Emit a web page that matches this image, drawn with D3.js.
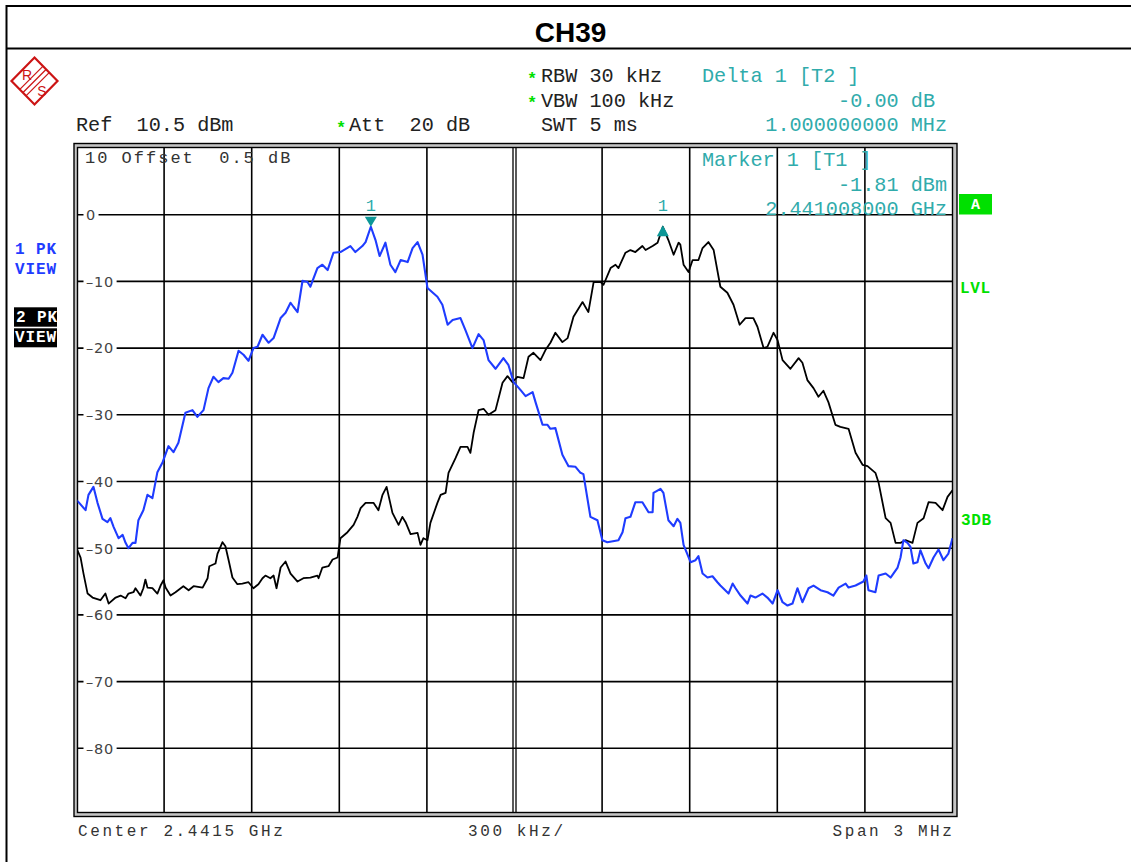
<!DOCTYPE html>
<html><head><meta charset="utf-8">
<script src="https://cdn.jsdelivr.net/npm/d3@7"></script>
<style>
html,body{margin:0;padding:0;background:#fff;}
svg{display:block;}
text{white-space:pre;}
</style></head>
<body>
<svg id="chart" width="1131" height="862"></svg>
<script>
// ---------------- DATA ----------------
const titleText = "CH39";
const centerFreqGHz = 2.4415;
const spanMHz = 3;
const levelTicks = [0, -10, -20, -30, -40, -50, -60, -70, -80];
const levelDomain = [-90, 10];
const freqDivisions = 10;
// markers: [offset from start (MHz), level dBm]
const marker1 = [1.008, -1.81];   // T1, 2.441008 GHz
const delta1 = [2.008, -1.81];    // T2, +1 MHz, -0.00 dB
// Trace 1 (blue, 1 PK VIEW): [offset from 2440 MHz (MHz), level dBm]
const trace1 = [[0,-42.8],[0.007,-43.1],[0.031,-44.3],[0.041,-42.0],[0.058,-40.8],[0.072,-43.2],[0.089,-45.6],[0.106,-46.1],[0.116,-45.5],[0.127,-46.8],[0.144,-48.5],[0.158,-48.0],[0.168,-49.2],[0.178,-50.0],[0.192,-49.2],[0.202,-49.2],[0.212,-45.8],[0.229,-44.3],[0.243,-42.0],[0.260,-42.5],[0.277,-38.6],[0.295,-37.1],[0.315,-34.7],[0.332,-35.6],[0.349,-34.2],[0.373,-29.7],[0.397,-29.3],[0.414,-30.3],[0.435,-29.3],[0.452,-26.0],[0.469,-24.3],[0.486,-25.1],[0.503,-24.5],[0.521,-24.6],[0.534,-23.7],[0.555,-20.4],[0.572,-21.0],[0.589,-21.9],[0.606,-20.0],[0.620,-19.8],[0.637,-18.0],[0.658,-19.2],[0.675,-18.5],[0.699,-15.5],[0.716,-14.7],[0.733,-13.2],[0.743,-13.8],[0.757,-14.6],[0.774,-9.9],[0.791,-10.1],[0.801,-10.8],[0.825,-8.0],[0.842,-7.5],[0.860,-8.3],[0.880,-5.7],[0.904,-5.6],[0.938,-4.7],[0.955,-5.6],[0.979,-4.7],[0.990,-4.1],[1.008,-1.81],[1.024,-3.8],[1.038,-6.2],[1.058,-4.2],[1.075,-7.5],[1.092,-8.6],[1.110,-6.8],[1.134,-7.1],[1.151,-5.0],[1.168,-4.1],[1.185,-6.0],[1.202,-11.0],[1.236,-12.3],[1.253,-13.5],[1.271,-16.5],[1.288,-15.8],[1.315,-15.5],[1.332,-17.3],[1.356,-20.0],[1.377,-17.9],[1.394,-18.8],[1.411,-21.8],[1.435,-23.1],[1.462,-21.5],[1.479,-22.5],[1.497,-25.1],[1.521,-26.3],[1.538,-27.2],[1.562,-26.6],[1.572,-28.1],[1.596,-31.5],[1.613,-31.5],[1.623,-32.1],[1.640,-32.0],[1.664,-36.0],[1.685,-37.7],[1.709,-37.8],[1.726,-38.7],[1.736,-38.9],[1.760,-45.3],[1.784,-45.8],[1.801,-48.8],[1.818,-49.1],[1.856,-48.8],[1.870,-47.6],[1.880,-45.5],[1.897,-45.3],[1.914,-43.1],[1.938,-43.1],[1.959,-44.6],[1.973,-44.6],[1.976,-41.7],[2.000,-41.1],[2.010,-41.7],[2.027,-45.8],[2.045,-46.7],[2.058,-45.6],[2.068,-46.2],[2.079,-49.5],[2.103,-52.1],[2.120,-51.8],[2.130,-51.2],[2.144,-53.8],[2.161,-54.4],[2.178,-54.2],[2.195,-55.1],[2.205,-55.6],[2.233,-56.8],[2.247,-55.3],[2.257,-56.0],[2.274,-57.1],[2.298,-58.3],[2.308,-57.1],[2.325,-57.4],[2.349,-56.8],[2.366,-57.4],[2.384,-58.3],[2.401,-56.3],[2.418,-58.1],[2.435,-58.6],[2.452,-58.3],[2.469,-56.0],[2.486,-58.1],[2.507,-56.0],[2.524,-55.6],[2.548,-56.3],[2.572,-56.6],[2.592,-57.1],[2.610,-55.9],[2.634,-55.3],[2.644,-55.9],[2.668,-55.6],[2.695,-55.0],[2.705,-54.1],[2.712,-56.3],[2.736,-56.6],[2.747,-54.1],[2.771,-53.8],[2.788,-54.4],[2.812,-52.9],[2.822,-51.4],[2.832,-48.8],[2.846,-49.2],[2.856,-49.8],[2.866,-52.3],[2.880,-52.1],[2.890,-50.3],[2.908,-52.3],[2.918,-53.0],[2.935,-51.4],[2.952,-50.2],[2.969,-51.8],[2.986,-50.8],[3.000,-48.5]];
// Trace 2 (black, 2 PK VIEW)
const trace2 = [[0,-50.1],[0.003,-50.3],[0.014,-51.4],[0.024,-53.8],[0.038,-56.8],[0.055,-57.4],[0.082,-57.8],[0.099,-56.8],[0.110,-58.3],[0.134,-57.4],[0.151,-57.1],[0.168,-57.5],[0.178,-56.8],[0.195,-56.6],[0.202,-56.0],[0.219,-57.1],[0.229,-56.0],[0.236,-54.7],[0.243,-55.9],[0.260,-56.0],[0.277,-56.8],[0.288,-55.6],[0.298,-54.8],[0.305,-55.9],[0.322,-57.1],[0.339,-56.6],[0.366,-55.7],[0.384,-56.3],[0.401,-55.7],[0.432,-55.9],[0.449,-54.5],[0.455,-52.7],[0.476,-52.3],[0.483,-50.8],[0.500,-49.1],[0.510,-49.7],[0.521,-51.8],[0.534,-54.4],[0.551,-55.4],[0.568,-55.3],[0.589,-55.1],[0.606,-56.0],[0.623,-55.4],[0.637,-54.5],[0.647,-54.1],[0.664,-54.5],[0.675,-54.1],[0.685,-56.0],[0.699,-52.9],[0.716,-52.0],[0.733,-53.8],[0.757,-55.0],[0.777,-54.5],[0.801,-54.4],[0.825,-54.1],[0.829,-54.5],[0.842,-52.9],[0.863,-52.7],[0.877,-51.7],[0.894,-51.4],[0.904,-48.5],[0.928,-47.6],[0.949,-46.5],[0.962,-45.3],[0.973,-44.0],[0.990,-43.2],[1.017,-43.2],[1.034,-44.3],[1.048,-42.0],[1.062,-40.8],[1.082,-44.7],[1.103,-46.5],[1.116,-45.3],[1.127,-46.1],[1.144,-47.9],[1.168,-47.7],[1.178,-49.5],[1.188,-48.5],[1.202,-48.8],[1.212,-46.2],[1.236,-43.2],[1.247,-42.0],[1.264,-41.7],[1.274,-38.7],[1.298,-36.5],[1.315,-34.8],[1.339,-34.8],[1.349,-35.7],[1.360,-32.7],[1.377,-29.3],[1.394,-29.1],[1.411,-30.0],[1.435,-29.3],[1.459,-25.2],[1.476,-24.2],[1.493,-25.1],[1.510,-24.3],[1.531,-24.5],[1.548,-21.3],[1.565,-20.7],[1.589,-21.8],[1.606,-20.3],[1.623,-19.2],[1.640,-17.7],[1.664,-19.1],[1.682,-18.5],[1.702,-15.3],[1.733,-13.1],[1.753,-14.6],[1.771,-10.1],[1.795,-10.1],[1.805,-10.5],[1.829,-8.0],[1.846,-7.5],[1.856,-8.0],[1.880,-5.7],[1.897,-5.3],[1.914,-5.6],[1.938,-4.7],[1.949,-5.3],[1.973,-4.7],[1.990,-4.2],[2.008,-1.81],[2.027,-3.8],[2.045,-6.0],[2.062,-4.2],[2.068,-4.5],[2.079,-7.5],[2.096,-8.6],[2.110,-6.8],[2.130,-6.8],[2.144,-5.0],[2.164,-4.1],[2.182,-5.3],[2.205,-10.8],[2.229,-11.7],[2.250,-13.5],[2.271,-16.5],[2.291,-15.5],[2.318,-15.5],[2.332,-16.8],[2.353,-20.0],[2.366,-19.8],[2.387,-17.7],[2.401,-18.8],[2.418,-21.8],[2.445,-23.1],[2.473,-21.5],[2.486,-22.2],[2.503,-24.8],[2.524,-26.0],[2.541,-27.3],[2.558,-26.4],[2.575,-28.1],[2.599,-31.5],[2.616,-31.8],[2.644,-32.1],[2.668,-35.7],[2.692,-37.5],[2.709,-37.7],[2.736,-38.7],[2.747,-40.2],[2.771,-45.5],[2.788,-46.2],[2.805,-49.2],[2.822,-49.2],[2.839,-48.8],[2.863,-49.2],[2.880,-46.2],[2.901,-45.5],[2.918,-43.1],[2.942,-43.2],[2.966,-44.3],[2.983,-42.3],[3.000,-41.3]];

// ---------------- DRAW ----------------
const svg = d3.select("#chart");
const mono = "'Liberation Mono','Courier New',monospace";
const teal = "#30abab", tealMark = "#0c9797", green = "#00e000", blue = "#1f3cff";

// outer page frame
svg.append("path").attr("d","M6.5,862 V6 H1140").attr("fill","none").attr("stroke","#000").attr("stroke-width",2);
svg.append("line").attr("x1",6).attr("x2",1140).attr("y1",48.5).attr("y2",48.5).attr("stroke","#000").attr("stroke-width",2);
svg.append("text").attr("x",570.5).attr("y",41.7).attr("text-anchor","middle")
  .attr("font-family","'Liberation Sans',Arial,sans-serif").attr("font-weight","bold").attr("font-size",28).text(titleText);

// R&S logo
const logoRed = "#cc1414";
const logo = svg.append("g").attr("transform","translate(34.5,81)").attr("fill","none").attr("stroke",logoRed);
logo.append("path").attr("d","M0,-23.5 L23,0 L0,23.5 L-23,0 Z").attr("stroke-width",2.2);
[-3.2,0,3.2].forEach(o=>{
  logo.append("line").attr("x1",-11.5+o).attr("y1",11.5+o).attr("x2",11.5+o).attr("y2",-11.5+o).attr("stroke-width",1.2);
});
logo.append("text").attr("x",-7.5).attr("y",-1.5).attr("text-anchor","middle").attr("fill",logoRed).attr("stroke","none")
  .attr("font-family","'Liberation Sans',Arial,sans-serif").attr("font-size",14).text("R");
logo.append("text").attr("x",7.5).attr("y",15).attr("text-anchor","middle").attr("fill",logoRed).attr("stroke","none")
  .attr("font-family","'Liberation Sans',Arial,sans-serif").attr("font-size",14).text("S");

// scales
const x = d3.scaleLinear().domain([0, spanMHz]).range([76.5, 952.5]);
const y = d3.scaleLinear().domain(levelDomain).range([815, 148]);
const x0 = 77.5, x1 = 952.5, y0 = 147.5, y1 = 812.5;

// plot frame (double with grey gap)
svg.append("rect").attr("x",74).attr("y",143.5).attr("width",883).attr("height",673).attr("fill","#c4c4c4").attr("stroke","#000").attr("stroke-width",1.4);
svg.append("rect").attr("x",x0).attr("y",y0).attr("width",x1-x0).attr("height",y1-y0).attr("fill","#fff").attr("stroke","#000").attr("stroke-width",1.4);

// grid
const grid = svg.append("g").attr("stroke","#000").attr("stroke-width",1.6);
d3.range(1, freqDivisions).forEach(i=>{
  const xv = x(i*spanMHz/freqDivisions);
  if (i === freqDivisions/2) {
    grid.append("line").attr("x1",xv-1.5).attr("x2",xv-1.5).attr("y1",y0).attr("y2",y1).attr("stroke-width",1.3);
    grid.append("line").attr("x1",xv+1.5).attr("x2",xv+1.5).attr("y1",y0).attr("y2",y1).attr("stroke-width",1.3);
  } else {
    grid.append("line").attr("x1",xv).attr("x2",xv).attr("y1",y0).attr("y2",y1);
  }
});
levelTicks.forEach(v=>{
  grid.append("line").attr("x1",x0).attr("x2",x1).attr("y1",y(v)).attr("y2",y(v));
});
// tick labels with white background
const lab = svg.append("g");
levelTicks.forEach(v=>{
  const t = lab.append("text").attr("x",86).attr("y",y(v)+5.3)
    .attr("font-family","'DejaVu Sans',Verdana,sans-serif").attr("font-size",14.5).attr("letter-spacing",0.8)
    .attr("fill","#444").text(v<0 ? "\u2013"+Math.abs(v) : String(v));
  const bb = t.node().getBBox();
  lab.insert("rect","text").attr("x",83.5).attr("y",y(v)-7).attr("width",bb.x+bb.width-83.5+2.5).attr("height",14).attr("fill","#fff");
});
svg.append("text").attr("x",85).attr("y",163.3).attr("font-family",mono).attr("font-size",17).attr("letter-spacing",2)
  .attr("fill","#333").text("10 Offset  0.5 dB");

// traces
svg.append("clipPath").attr("id","clip").append("rect").attr("x",x0).attr("y",y0).attr("width",x1-x0).attr("height",y1-y0);
const line = d3.line().x(d=>x(d[0])).y(d=>y(d[1]));
svg.append("path").datum(trace2).attr("clip-path","url(#clip)").attr("d",line)
  .attr("fill","none").attr("stroke","#000").attr("stroke-width",1.8).attr("stroke-linejoin","round");
svg.append("path").datum(trace1).attr("clip-path","url(#clip)").attr("d",line)
  .attr("fill","none").attr("stroke",blue).attr("stroke-width",2.1).attr("stroke-linejoin","round");

// markers
{
  const mx = x(marker1[0]), my = y(marker1[1]);
  svg.append("path").attr("d",`M${mx-6},${my-10} L${mx+6},${my-10} L${mx},${my} Z`).attr("fill",tealMark);
  svg.append("text").attr("x",mx).attr("y",my-16).attr("text-anchor","middle").attr("font-family",mono).attr("font-size",17).attr("fill",teal).text("1");
  const dx = x(delta1[0]), dy = y(delta1[1]) - 1.5;
  svg.append("path").attr("d",`M${dx-6},${dy+11} L${dx+6},${dy+11} L${dx},${dy} Z`).attr("fill",tealMark);
  svg.append("text").attr("x",dx).attr("y",dy-14).attr("text-anchor","middle").attr("font-family",mono).attr("font-size",17).attr("fill",teal).text("1");
}

// header texts
function txt(xp, yp, s, opts={}) {
  const t = svg.append("text").attr("x",xp).attr("y",yp).attr("font-family",mono)
    .attr("font-size",opts.size||20.2).attr("fill",opts.fill||"#222").text(s);
  if (opts.anchor) t.attr("text-anchor",opts.anchor);
  if (opts.bold) t.attr("font-weight","bold");
  if (opts.ls) t.attr("letter-spacing",opts.ls);
  return t;
}
txt(541, 82.2, "RBW 30 kHz");
txt(541, 106.5, "VBW 100 kHz");
txt(541, 131, "SWT 5 ms");
txt(76, 131, "Ref  10.5 dBm");
txt(349, 131, "Att  20 dB");
[[527,83.5],[527,108],[336,132.5]].forEach(p=>txt(p[0],p[1],"*",{fill:green,bold:true,size:17}));
txt(702, 82.2, "Delta 1 [T2 ]", {fill:teal});
txt(935, 106.5, "-0.00 dB", {fill:teal, anchor:"end"});
txt(947, 131, "1.000000000 MHz", {fill:teal, anchor:"end"});
txt(702, 166, "Marker 1 [T1 ]", {fill:teal});
txt(947, 190.7, "-1.81 dBm", {fill:teal, anchor:"end"});
txt(947, 215, "2.441008000 GHz", {fill:teal, anchor:"end"});

// bottom
txt(78, 836, "Center " + centerFreqGHz + " GHz", {size:16, ls:2.6, fill:"#333"});
txt(468, 836, (spanMHz*1000/freqDivisions) + " kHz/", {size:16, ls:2.6, fill:"#333"});
txt(954.5, 836, "Span " + spanMHz + " MHz", {size:16, ls:2.6, fill:"#333", anchor:"end"});

// left side labels
txt(15, 253.8, "1 PK", {fill:blue, bold:true, size:16, ls:0.9});
txt(15, 274.2, "VIEW", {fill:blue, bold:true, size:16, ls:0.9});
svg.append("rect").attr("x",14).attr("y",307.3).attr("width",43).attr("height",19.4).attr("fill","#000");
svg.append("rect").attr("x",14).attr("y",328.3).attr("width",43).attr("height",19).attr("fill","#000");
txt(16, 322.2, "2 PK", {fill:"#fff", bold:true, size:16, ls:0.9});
txt(15, 342.2, "VIEW", {fill:"#fff", bold:true, size:16, ls:0.9});

// right side labels
svg.append("rect").attr("x",959).attr("y",194).attr("width",33).attr("height",20.5).attr("fill",green);
txt(975.5, 209, "A", {fill:"#fff", bold:true, size:15, anchor:"middle"});
txt(960, 293.3, "LVL", {fill:green, bold:true, size:16, ls:0.6});
txt(961, 525, "3DB", {fill:green, bold:true, size:16, ls:0.6});
</script>
</body></html>
